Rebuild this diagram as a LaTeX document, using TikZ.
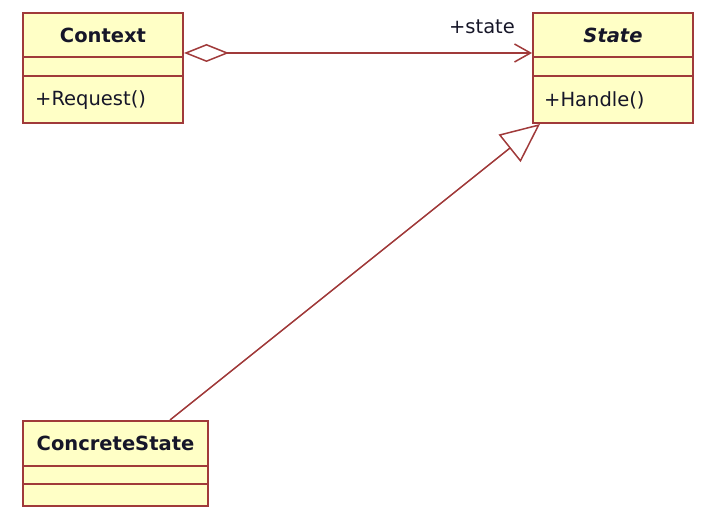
\documentclass[tikz,border=0pt]{standalone}
\usepackage{fontspec}
\setmainfont{DejaVu Sans}
\usetikzlibrary{arrows.meta}
\definecolor{umlline}{RGB}{160,58,58}
\definecolor{umlfill}{RGB}{255,255,198}
\definecolor{umltext}{RGB}{22,22,40}

\begin{document}
\begin{tikzpicture}[x=1pt,y=-1pt,
	classbox/.style={draw=umlline,fill=umlfill,line width=2pt,inner sep=0pt},
	classline/.style={draw=umlline,line width=2pt},
	umltxt/.style={text=umltext,inner sep=0pt,font=\fontsize{19.5}{22}\selectfont},
	conn/.style={draw=umlline,line width=1.5pt}]
	
	\useasboundingbox (0,0) rectangle (703,518);
	
	% the classes
	\node[classbox,minimum width=160pt,minimum height=110pt] (Context) at (103,68) {};
	\node[classbox,minimum width=160pt,minimum height=110pt] (State) at (613,68) {};
	\node[classbox,minimum width=185pt,minimum height=85pt] (Concrete) at (115.5,463.5) {};
	
	% compartments
	\draw[classline] (Context.west |- 0,57) -- (Context.east |- 0,57)
		(Context.west |- 0,76) -- (Context.east |- 0,76);
	\draw[classline] (State.west |- 0,57) -- (State.east |- 0,57)
		(State.west |- 0,76) -- (State.east |- 0,76);
	\draw[classline] (Concrete.west |- 0,466) -- (Concrete.east |- 0,466)
		(Concrete.west |- 0,484) -- (Concrete.east |- 0,484);
	
	% names and operations
	\node[umltxt] (ContextName) at (103,35) {\bfseries Context};
	\node[umltxt,anchor=west] (ContextOp) at (35,100) {+Request()};
	\node[umltxt] (StateName) at (613,35) {\bfseries\itshape State};
	\node[umltxt,anchor=west] (StateOp) at (544,100) {+Handle()};
	\node[umltxt] (ConcreteName) at (115.5,443) {\bfseries ConcreteState};
	\node[umltxt] (StateRole) at (482,27) {+state};
	
	% aggregation and generalization
	\draw[conn,{Diamond[open,length=45pt,width=18pt]}-{Straight Barb[length=16pt,width=18pt]}]
		([yshift=15pt]Context.east) -- ([yshift=15pt]State.west);
	\draw[conn,-{Triangle[open,length=39pt,width=35pt]}]
		([xshift=54.5pt]Concrete.north) -- ([xshift=-73pt]State.south);
	
\end{tikzpicture}
\end{document}
